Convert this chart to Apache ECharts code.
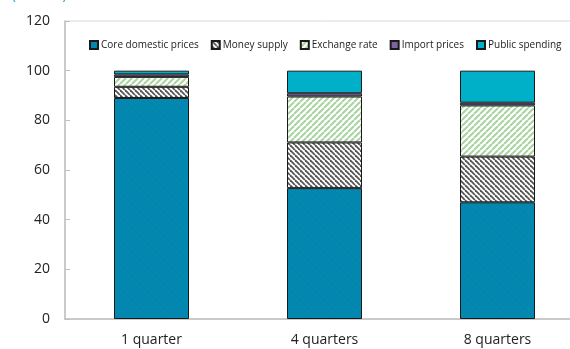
<!DOCTYPE html>
<html lang="en">
<head>
    <meta charset="UTF-8">
    <title>Decomposition by horizon</title>
    <script src="https://cdn.jsdelivr.net/npm/echarts@6.0.0/dist/echarts.min.js"></script>
    <style>
        html, body { margin: 0; padding: 0; background: #fff; overflow: hidden; }
        /* plot runs past the right edge of the window, as in the original */
        #main { width: 600px; height: 349px; }
    </style>
</head>
<body>
    <div id="main"></div>

    <script>
        // data
        var horizons = ['1 quarter', '4 quarters', '8 quarters'];
        var coreDomestic = [89, 52.7, 47.0];
        var moneySupply = [4.5, 18.4, 18.4];
        var exchangeRate = [4.0, 18.5, 20.6];
        var importPrices = [1.0, 1.3, 1.1];
        var publicSpending = [1.5, 9.1, 12.9];
        var yTicks = [0, 20, 40, 60, 80, 100, 120];

        // diagonal stripe tile; dir 1 = down-right, -1 = up-right
        function stripes(bg, fg, size, lw, dir) {
            var c = document.createElement('canvas');
            c.width = size; c.height = size;
            var ctx = c.getContext('2d');
            ctx.fillStyle = bg;
            ctx.fillRect(0, 0, size, size);
            ctx.strokeStyle = fg;
            ctx.lineWidth = lw;
            for (var k = -1; k <= 1; k++) {
                ctx.beginPath();
                if (dir > 0) {
                    ctx.moveTo(k * size, 0);
                    ctx.lineTo(k * size + size, size);
                } else {
                    ctx.moveTo(k * size, size);
                    ctx.lineTo(k * size + size, 0);
                }
                ctx.stroke();
            }
            return { image: c, repeat: 'repeat' };
        }

        var chart = echarts.init(document.getElementById('main'));

        function bar(name, data, fill) {
            return {
                name: name,
                type: 'bar',
                stack: 'total',
                barWidth: 75,
                data: data,
                itemStyle: { color: fill, borderColor: '#1a1a1a', borderWidth: 1 }
            };
        }

        var option = {
            animation: false,
            textStyle: { fontFamily: 'Open Sans' },
            grid: {
                left: 65, top: 21, width: 519, height: 298,
                show: true, borderColor: '#d9d9d9', borderWidth: 1
            },
            graphic: [{
                type: 'text', x: 12, y: 3,
                style: {
                    text: '(Percent)', fill: '#1aa0d8', font: '13px "Open Sans"',
                    verticalAlign: 'bottom'
                }
            }],
            legend: {
                left: 84, top: 35, width: 520,
                itemWidth: 8, itemHeight: 8, itemGap: 12,
                textStyle: { fontSize: 10, color: '#222', padding: [0, 0, 0, -2] },
                icon: 'rect'
            },
            xAxis: {
                type: 'category',
                data: horizons,
                axisLine: { lineStyle: { color: '#bfbfbf', width: 1.5 } },
                axisTick: { inside: true, length: 5, lineStyle: { color: '#bfbfbf' } },
                axisLabel: { fontSize: 14, color: '#222', margin: 14 }
            },
            yAxis: {
                type: 'value', min: 0, max: 120, interval: 20,
                splitLine: { show: false },
                axisLine: { show: true, lineStyle: { color: '#bfbfbf', width: 1.5 } },
                axisTick: { show: true, inside: true, length: 5, lineStyle: { color: '#bfbfbf' } },
                axisLabel: {
                    fontSize: 14, color: '#222', margin: 15,
                    formatter: function (v) { return yTicks.indexOf(v) >= 0 ? v : ''; }
                }
            },
            series: [
                bar('Core domestic prices', coreDomestic, stripes('#0089b2', '#0a83a9', 6, 1.5, 1)),
                bar('Money supply', moneySupply, stripes('#ffffff', '#555555', 5, 1.8, 1)),
                bar('Exchange rate', exchangeRate, stripes('#ffffff', '#a9d3a0', 6, 2, -1)),
                bar('Import prices', importPrices, '#8064a2'),
                bar('Public spending', publicSpending, '#00afc8')
            ]
        };

        chart.setOption(option);
    </script>
</body>
</html>
